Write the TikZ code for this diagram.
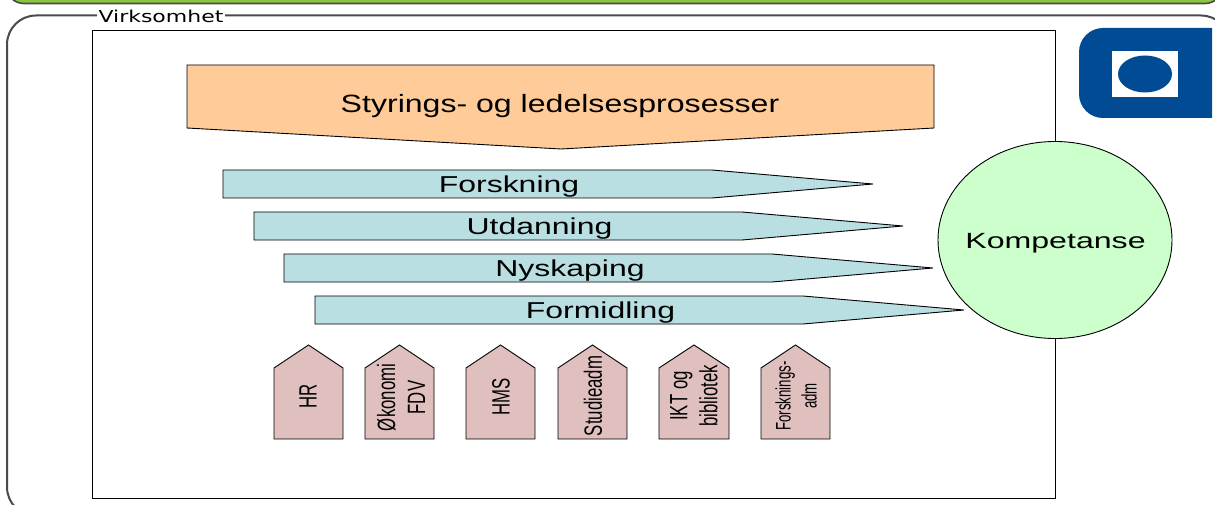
\documentclass[tikz,border=0pt]{standalone}
\usepackage{fontspec}
\setmainfont{Liberation Sans}
\newfontfamily\labelfont{DejaVu Sans}
\usepackage{tikz}
\usetikzlibrary{shapes.geometric}
\definecolor{barGreen}{HTML}{8CC63F}
\definecolor{frameGray}{HTML}{4A4A4A}
\definecolor{headOrange}{HTML}{FFCC99}
\definecolor{flowBlue}{HTML}{B9DFE3}
\definecolor{houseRose}{HTML}{E0BFBF}
\definecolor{circleGreen}{HTML}{CCFFCC}
\definecolor{logoBlue}{HTML}{004B93}
\tikzset{
    flow/.style={draw=black, fill=flowBlue, line width=0.9pt},
    house/.style={draw=black, fill=houseRose, line width=0.9pt},
    flowtext/.style={inner sep=0pt, font=\fontsize{23}{23}\selectfont, xscale=1.39},
    housetext/.style={inner sep=0pt, align=center, rotate=90, font=\fontsize{25}{30}\selectfont, xscale=0.67}
}

\begin{document}
\begin{tikzpicture}[x=1pt, y=-1pt]
        \useasboundingbox (0,0) rectangle (1215,505);
        \clip (0,0) rectangle (1215,505);

        % top bar and outer frame
        \draw[draw=frameGray, fill=barGreen, line width=1.6pt, rounded corners=18pt]
            (6,-40) rectangle (1223,3.5);
        \draw[draw=frameGray, line width=2pt, rounded corners=29pt]
            (7,15.5) rectangle (1230,516);
        \node[fill=white, inner sep=1pt, xscale=1.34, font=\labelfont\fontsize{16.4}{16.4}\selectfont] (virksomhet) at (161,16) {Virksomhet};

        % inner box
        \draw[draw=black, fill=white, line width=1pt] (92,30.5) rectangle (1055,498);

        % logo
        \begin{scope}
            \clip (1070,20) rectangle (1212,125);
            \fill[logoBlue, rounded corners=24pt] (1079,28) rectangle (1235,118);
        \end{scope}
        \fill[white] (1112,51) rectangle (1178,97);
        \fill[logoBlue] (1145,74) ellipse [x radius=27, y radius=18.5];

        % governing processes
        \draw[draw=black, fill=headOrange, line width=0.9pt]
            (187,65) -- (934,65) -- (934,128) -- (561,149) -- (187,128) -- cycle;
        \node[flowtext, font=\fontsize{25}{25}\selectfont, xscale=0.923] (styring) at (560,106) {Styrings- og ledelsesprosesser};

        % core processes
        \draw[flow] (223,170) -- (712,170) -- (873,184) -- (712,198) -- (223,198) -- cycle;
        \node[flowtext] (forskning) at (509,187) {Forskning};
        \draw[flow] (254,212) -- (742,212) -- (903,226) -- (742,240) -- (254,240) -- cycle;
        \node[flowtext] (utdanning) at (539.5,229) {Utdanning};
        \draw[flow] (284,254) -- (772,254) -- (933,268) -- (772,282) -- (284,282) -- cycle;
        \node[flowtext] (nyskaping) at (570,271) {Nyskaping};
        \draw[flow] (315,296) -- (803,296) -- (964,310) -- (803,324) -- (315,324) -- cycle;
        \node[flowtext] (formidling) at (600.5,313) {Formidling};

        % competence
        \node[ellipse, draw=black, fill=circleGreen, line width=0.9pt, inner sep=0pt, minimum width=234pt, minimum height=197pt] (kompetanse) at (1055,240) {};
        \node[flowtext, font=\fontsize{22}{22}\selectfont, xscale=1.05] (kompetansetext) at (1055.5,243) {Kompetanse};

        % support functions
        \draw[house] (274,368) -- (308.5,345) -- (343,368) -- (343,439) -- (274,439) -- cycle;
        \node[housetext] (hr) at (308,396) {HR};
        \draw[house] (365,368) -- (399.5,345) -- (434,368) -- (434,439) -- (365,439) -- cycle;
        \node[housetext] (okonomi) at (401,397.5) {Økonomi\\FDV};
        \draw[house] (466,368) -- (500.5,345) -- (535,368) -- (535,439) -- (466,439) -- cycle;
        \node[housetext] (hms) at (501,397) {HMS};
        \draw[house] (558,368) -- (592.5,345) -- (627,368) -- (627,439) -- (558,439) -- cycle;
        \node[housetext] (studieadm) at (593,396) {Studieadm};
        \draw[house] (659,368) -- (694,345) -- (729,368) -- (729,439) -- (659,439) -- cycle;
        \node[housetext] (ikt) at (694,396) {IKT og\\bibliotek};
        \draw[house] (761,368) -- (795.5,345) -- (830,368) -- (830,439) -- (761,439) -- cycle;
        \node[housetext, font=\fontsize{21}{26}\selectfont, xscale=0.94] (forskningsadm) at (796,396) {Forsknings-\\adm};
    \end{tikzpicture}
\end{document}
